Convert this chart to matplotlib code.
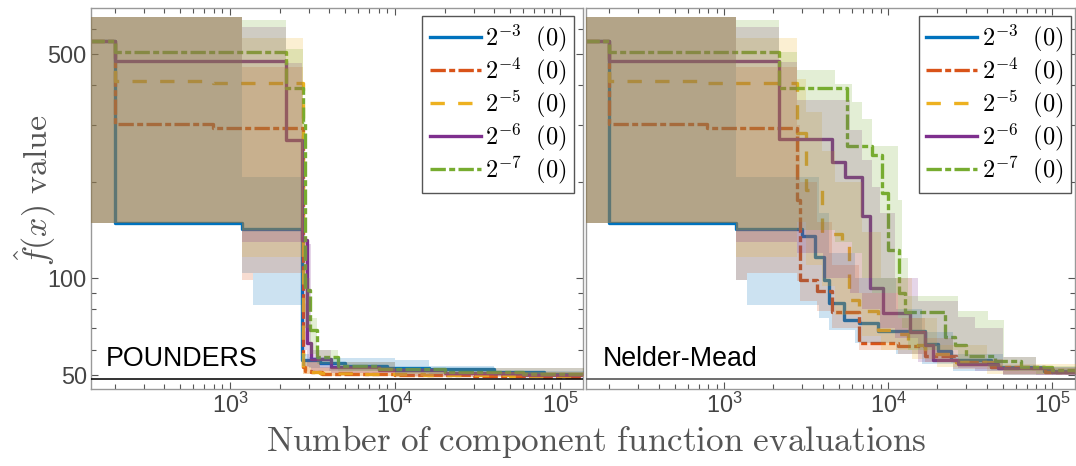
import numpy as np
import matplotlib.pyplot as plt
from matplotlib.ticker import FixedLocator, FuncFormatter, LogLocator, NullFormatter

plt.rcParams['font.family'] = ['Liberation Sans', 'DejaVu Sans']
plt.rcParams['mathtext.fontset'] = 'cm'

colors = ['#0072BD', '#D95319', '#EDB120', '#7E2F8E', '#77AC30']
labels = [r'$2^{-3}\ \ (0)$', r'$2^{-4}\ \ (0)$', r'$2^{-5}\ \ (0)$',
          r'$2^{-6}\ \ (0)$', r'$2^{-7}\ \ (0)$']
best_f = 48.5

# ---- POUNDERS: step lines (x, y) and quantile bands (bx, lo, hi)
pou3_x = [140, 200, 1180, 2750, 3500, 5000, 9000, 16000, 40000, 80000]
pou3_y = [549, 148.6, 142.3, 55.7, 54.5, 53.5, 52.6, 52, 51.2, 50.5]
pou3_bx = [140, 1180, 1380, 2750, 3000, 4000, 10000, 16000, 40000]
pou3_lo = [148.6, 104, 82.6, 53.5, 52.5, 51.5, 50.8, 50.2, 49.6]
pou3_hi = [655, 207, 207, 58, 57, 56.5, 55.5, 53.5, 51.5]

pou4_x = [140, 200, 793, 2770, 2850, 3100, 3600, 5000, 10000, 30000, 80000]
pou4_y = [549, 302, 294, 53, 51.5, 51, 50.5, 50.2, 49.9, 49.6, 49.4]
pou4_bx = [140, 1180, 1380, 2770, 3500, 10000]
pou4_lo = [148.6, 98.9, 104, 50.5, 49.8, 49.2]
pou4_hi = [655, 457, 457, 56, 53, 51]

pou5_x = [140, 200, 793, 2770, 2900, 3500, 6000, 15000, 50000]
pou5_y = [549, 413, 408, 52, 51, 50.6, 50.2, 49.9, 49.5]
pou5_bx = [140, 1180, 2770, 3500, 10000]
pou5_lo = [148.6, 117, 50.3, 49.8, 49.2]
pou5_hi = [655, 561, 55, 52.5, 51]

pou6_x = [140, 200, 793, 2176, 2750, 2920, 3120, 4075, 8000, 20000, 60000]
pou6_y = [549, 477, 475, 270, 131.6, 63, 56, 53, 51.8, 50.8, 50.1]
pou6_bx = [140, 1180, 2176, 2750, 2920, 3120, 4075, 10000]
pou6_lo = [148.6, 130, 130, 60, 53, 51.5, 50.8, 49.8]
pou6_hi = [655, 610, 470, 135, 128, 60, 55, 52.5]

pou7_x = [140, 200, 2176, 2790, 2870, 3070, 3380, 4500, 8000, 20000, 60000]
pou7_y = [549, 509, 392, 308, 92, 69, 57, 53.5, 52, 51, 50.3]
pou7_bx = [140, 1180, 2176, 2790, 2870, 3070, 3380, 4500, 10000]
pou7_lo = [148.6, 142, 142, 95, 70, 58, 54, 51.5, 50.5]
pou7_hi = [655, 640, 520, 320, 100, 75, 60, 55, 52.5]

# ---- Nelder-Mead
nm3_x = [140, 200, 1182, 3000, 3610, 4060, 4350, 5360, 6610, 8720, 16700, 20200, 24200, 42400, 89500]
nm3_y = [549, 148.6, 142.3, 136, 117, 98.9, 83.7, 74.1, 72.5, 68.5, 62.3, 59.5, 55.7, 53, 51.4]
nm3_bx = [140, 1182, 1378, 3780, 4350, 6300, 11200, 16000, 25000, 50000]
nm3_lo = [148.6, 99, 82.6, 75, 69, 63, 58, 54, 51.5, 50]
nm3_hi = [655, 207, 207, 160, 120, 100, 80, 68, 58, 53]

nm4_x = [140, 200, 789, 2767, 2925, 3690, 4550, 6610, 11500, 16700, 26000, 42400, 90000]
nm4_y = [549, 302, 294, 175.6, 98.9, 91.5, 78.8, 63.0, 61.7, 57.3, 55, 53.1, 51]
nm4_bx = [140, 1182, 1378, 2767, 2925, 3690, 4550, 6610, 11500, 16700, 25000, 50000]
nm4_lo = [148.6, 99, 104, 98, 85, 79, 70, 60, 58, 55, 52, 50]
nm4_hi = [655, 457, 457, 300, 200, 150, 110, 90, 75, 65, 56, 52.5]

nm5_x = [140, 200, 789, 2767, 3140, 3960, 5230, 5740, 6610, 8720, 11200, 13300, 16700, 24000, 45000, 90000]
nm5_y = [549, 413, 408, 285, 189, 138, 126, 85.7, 79, 69, 67, 62, 58, 55, 52.5, 51]
nm5_bx = [140, 1182, 2767, 3140, 3960, 4760, 6920, 9000, 14000, 20000, 40000]
nm5_lo = [148.6, 117, 150, 110, 95, 77, 66, 60, 56, 53, 50.5]
nm5_hi = [655, 561, 420, 330, 250, 200, 140, 100, 75, 62, 54]

nm6_x = [140, 200, 789, 2163, 4550, 5480, 6920, 7780, 9370, 13600, 16700, 18800, 26700, 46500, 100000]
nm6_y = [549, 477, 475, 271.6, 231, 207.6, 156, 93.1, 77.8, 68.2, 62.1, 55.7, 54.0, 52.6, 51]
nm6_bx = [140, 1182, 2163, 2790, 4000, 5890, 6920, 7950, 8930, 11000, 15300, 26700, 33700, 50000, 80000]
nm6_lo = [148.6, 130, 130, 120, 100, 90, 80, 80, 70, 65, 55, 52.5, 51.5, 50.5, 50]
nm6_hi = [655, 610, 474, 361, 361, 290, 234, 193, 160, 100, 85, 76, 70, 57, 53]

nm7_x = [140, 200, 2163, 5610, 7960, 9140, 9980, 11600, 12700, 22150, 25500, 30000, 45000, 65000, 100000]
nm7_y = [549, 509, 392, 259, 242.6, 185, 122.8, 90.0, 78.5, 65.8, 62, 57.3, 55.4, 53.1, 51.7]
nm7_bx = [140, 1182, 2163, 2790, 4780, 6000, 6920, 7950, 11500, 12080, 13300, 26700, 40500, 51200, 80000]
nm7_lo = [148.6, 142, 142, 142, 130, 120, 100, 90, 75, 70, 60, 54, 53, 51.5, 50.5]
nm7_hi = [655, 640, 509, 447, 405, 356, 313, 258, 176, 116, 88, 79, 74, 57, 53.5]

pou = [(pou3_x, pou3_y, pou3_bx, pou3_lo, pou3_hi),
       (pou4_x, pou4_y, pou4_bx, pou4_lo, pou4_hi),
       (pou5_x, pou5_y, pou5_bx, pou5_lo, pou5_hi),
       (pou6_x, pou6_y, pou6_bx, pou6_lo, pou6_hi),
       (pou7_x, pou7_y, pou7_bx, pou7_lo, pou7_hi)]
nm = [(nm3_x, nm3_y, nm3_bx, nm3_lo, nm3_hi),
      (nm4_x, nm4_y, nm4_bx, nm4_lo, nm4_hi),
      (nm5_x, nm5_y, nm5_bx, nm5_lo, nm5_hi),
      (nm6_x, nm6_y, nm6_bx, nm6_lo, nm6_hi),
      (nm7_x, nm7_y, nm7_bx, nm7_lo, nm7_hi)]

styles = ['-', (0, (4.6, 1.0, 1.8, 1.0)), (0, (4.3, 4.0)), '-', (0, (4.6, 1.0, 1.8, 1.0))]
XMIN, XMAX = 144, 1.38e5
X_END = 2e5

fig = plt.figure(figsize=(10.76, 4.66), dpi=100)
ax1 = fig.add_axes([91 / 1076, 77 / 466, 492 / 1076, 381 / 466])
ax2 = fig.add_axes([586 / 1076, 77 / 466, 489 / 1076, 381 / 466])

tick_col = '#444444'
for ax, series, name, hcol in [(ax1, pou, 'POUNDERS', '#111111'), (ax2, nm, 'Nelder-Mead', '#555555')]:
    for (x, y, bx, lo, hi), c, ls, lab in zip(series, colors, styles, labels):
        ax.step(np.append(x, X_END), np.append(y, y[-1]), where='post',
                color=c, ls=ls, lw=2.4, label=lab, zorder=2)
        ax.fill_between(np.append(bx, X_END), np.append(lo, lo[-1]), np.append(hi, hi[-1]),
                        step='post', color=c, alpha=0.2, lw=0, zorder=3)
    ax.axhline(best_f, color=hcol, lw=1.2, zorder=4)
    ax.set_xscale('log')
    ax.set_yscale('log')
    ax.set_xlim(XMIN, XMAX)
    ax.set_ylim(45.2, 697)

    ax.xaxis.set_major_locator(LogLocator(base=10))
    ax.xaxis.set_minor_locator(LogLocator(base=10, subs=np.arange(2, 10)))
    ax.xaxis.set_major_formatter(FuncFormatter(lambda v, p: r'$\mathregular{10^{%d}}$' % round(np.log10(v))))
    ax.xaxis.set_minor_formatter(NullFormatter())
    ax.yaxis.set_major_locator(FixedLocator([50, 100, 500]))
    ax.yaxis.set_minor_locator(FixedLocator([60, 70, 80, 90, 200, 300, 400, 600]))
    ax.yaxis.set_major_formatter(FuncFormatter(lambda v, p: f'{v:g}'))
    ax.yaxis.set_minor_formatter(NullFormatter())

    ax.tick_params(which='both', direction='in', top=True, right=True,
                   color='#555555', labelcolor=tick_col, labelsize=16.8, width=0.8)
    ax.tick_params(which='major', length=5, pad=3)
    ax.tick_params(which='minor', length=3.5)
    for s in ax.spines.values():
        s.set_color('#999999')
        s.set_linewidth(1.0)

    ax.text(0.029 if ax is ax1 else 0.035, 0.06, name, transform=ax.transAxes,
            fontsize=19.3, va='baseline', ha='left', color='black', zorder=6)

    leg = ax.legend(loc='upper right', bbox_to_anchor=(0.982 if ax is ax1 else 0.991, 0.98),
                    borderaxespad=0, fontsize=17.5, frameon=True, fancybox=False,
                    edgecolor='#555555', framealpha=1, handlelength=2.1,
                    handletextpad=0.2, labelspacing=0.05, borderpad=0.3)
    leg.get_frame().set_linewidth(1.0)
    leg.set_zorder(10)

ax2.tick_params(axis='y', which='both', left=False, labelleft=False)

fig.text(35 / 1076, 1 - 190 / 466, r'$\hat{f}(x)\ \mathrm{value}$', rotation=90,
         ha='center', va='center', fontsize=24.5, color='#555555')
fig.text(596 / 1076, 15 / 466, r'$\mathrm{Number\ of\ component\ function\ evaluations}$',
         ha='center', va='baseline', fontsize=25.3, color='#555555')

fig.savefig('out.png', dpi=100)
